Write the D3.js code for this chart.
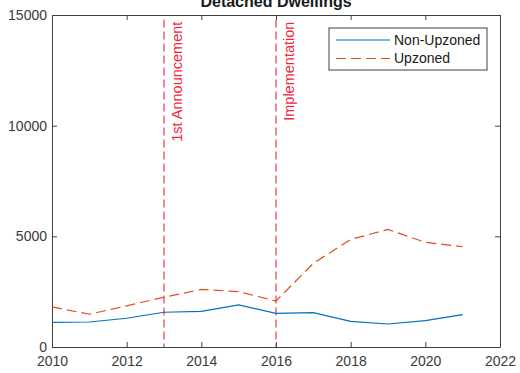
<!DOCTYPE html>
<html>
<head>
<meta charset="utf-8">
<script src="https://cdn.jsdelivr.net/npm/d3@7"></script>
<style>
  html, body { margin: 0; padding: 0; background: #fff; }
  svg { display: block; font-family: "Liberation Sans", Arial, Helvetica, sans-serif; }
</style>
</head>
<body>
<div id="chart"></div>
<script>
// Annual counts of detached dwellings, 2010–2021
const years = [2010, 2011, 2012, 2013, 2014, 2015, 2016, 2017, 2018, 2019, 2020, 2021];
const nonUpzoned = [1110, 1130, 1300, 1570, 1610, 1900, 1520, 1550, 1160, 1040, 1190, 1460];
const upzoned = [1810, 1480, 1860, 2250, 2600, 2500, 2080, 3780, 4860, 5310, 4730, 4530];

const xTicks = [2010, 2012, 2014, 2016, 2018, 2020, 2022];
const yTicks = [0, 5000, 10000, 15000];

const events = [
  { year: 2013, label: "1st Announcement" },
  { year: 2016, label: "Implementation" }
];
const seriesNames = ["Non-Upzoned", "Upzoned"];
const title = "Detached Dwellings";

const W = 520, H = 373;
const m = { left: 52, right: 20, top: 15, bottom: 26 };

const svg = d3.select("#chart").append("svg")
  .attr("width", W).attr("height", H);

const x = d3.scaleLinear().domain([2010, 2022]).range([m.left, W - m.right]);
const y = d3.scaleLinear().domain([0, 15000]).range([H - m.bottom, m.top]);

const axisColor = "#404040";
const blue = "#0072BD";
const orange = "#D95319";
const red = "#f0283c";

// Axes box with inward ticks on all four sides
function styleAxis(g) {
  g.select(".domain").attr("stroke", axisColor).attr("stroke-width", 1);
  g.selectAll(".tick line").attr("stroke", axisColor);
  g.selectAll(".tick text").attr("fill", "#3a3a3a").attr("font-size", 14);
}

svg.append("g")
  .attr("transform", `translate(0,${H - m.bottom})`)
  .call(d3.axisBottom(x).tickValues(xTicks).tickFormat(d3.format("d"))
    .tickSizeInner(-5).tickSizeOuter(0).tickPadding(4))
  .call(styleAxis)
  .call(g => g.selectAll(".tick text").attr("dy", "0.78em").attr("y", 8));

svg.append("g")
  .attr("transform", `translate(0,${m.top})`)
  .call(d3.axisTop(x).tickValues(xTicks).tickFormat("")
    .tickSizeInner(-5).tickSizeOuter(0))
  .call(styleAxis);

svg.append("g")
  .attr("transform", `translate(${m.left},0)`)
  .call(d3.axisLeft(y).tickValues(yTicks).tickFormat(d3.format("d"))
    .tickSizeInner(-5).tickSizeOuter(0).tickPadding(5))
  .call(styleAxis);

svg.append("g")
  .attr("transform", `translate(${W - m.right},0)`)
  .call(d3.axisRight(y).tickValues(yTicks).tickFormat("")
    .tickSizeInner(-5).tickSizeOuter(0))
  .call(styleAxis);

// Event markers
const ev = svg.append("g");
ev.selectAll("line").data(events).join("line")
  .attr("x1", d => x(d.year)).attr("x2", d => x(d.year))
  .attr("y1", y(14800)).attr("y2", y(0))
  .attr("stroke", red).attr("stroke-width", 1.1)
  .attr("stroke-dasharray", "8,4");
ev.selectAll("text").data(events).join("text")
  .attr("transform", d => `translate(${x(d.year) + 18},${y(14700)}) rotate(-90)`)
  .attr("text-anchor", "end")
  .attr("fill", red)
  .attr("font-size", 14.5)
  .text(d => d.label);

// Series lines
const line = d3.line().x((d, i) => x(years[i])).y(d => y(d));

svg.append("path").datum(nonUpzoned)
  .attr("d", line).attr("fill", "none")
  .attr("stroke", blue).attr("stroke-width", 1.2);

svg.append("path").datum(upzoned)
  .attr("d", line).attr("fill", "none")
  .attr("stroke", orange).attr("stroke-width", 1.2)
  .attr("stroke-dasharray", "10,5");

// Title
svg.append("text")
  .attr("x", (x(2010) + x(2022)) / 2)
  .attr("y", 7)
  .attr("text-anchor", "middle")
  .attr("font-weight", "bold")
  .attr("font-size", 16)
  .attr("fill", "#1a1a1a")
  .text(title);

// Legend
const lg = svg.append("g").attr("transform", "translate(329,28)");
lg.append("rect").attr("width", 158).attr("height", 42)
  .attr("fill", "#fff").attr("stroke", "#404040").attr("stroke-width", 1);
const items = [
  { name: seriesNames[0], color: blue, dash: null },
  { name: seriesNames[1], color: orange, dash: "10,5" }
];
items.forEach((it, i) => {
  const yy = 12 + i * 18.5;
  lg.append("line").attr("x1", 7).attr("x2", 61).attr("y1", yy).attr("y2", yy)
    .attr("stroke", it.color).attr("stroke-width", 1.2)
    .attr("stroke-dasharray", it.dash);
  lg.append("text").attr("x", 65).attr("y", yy).attr("dy", "0.35em")
    .attr("font-size", 14).attr("fill", "#1a1a1a").text(it.name);
});
</script>
</body>
</html>
